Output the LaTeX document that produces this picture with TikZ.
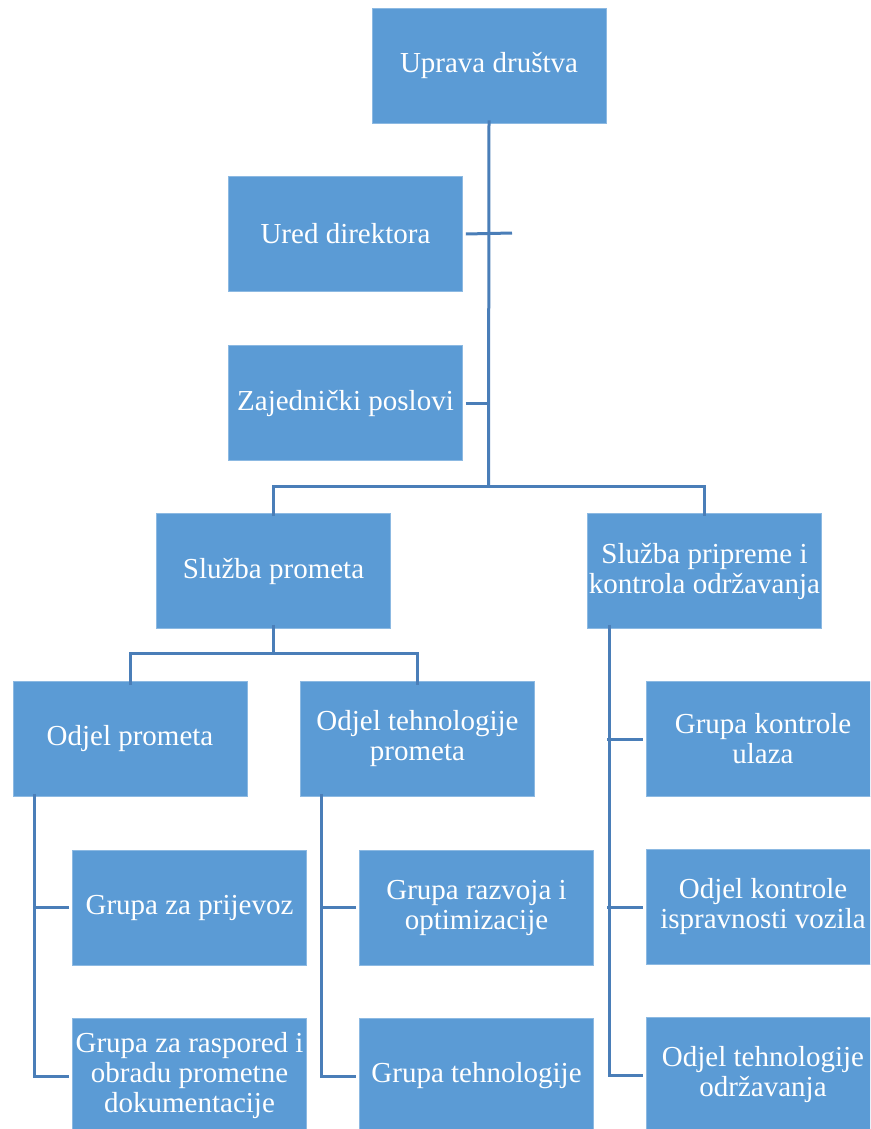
\documentclass[tikz,border=0pt]{standalone}
\usepackage{fontspec}
\setmainfont{Liberation Serif}
\newfontfamily\orgfont{Liberation Serif}
\definecolor{boxblue}{HTML}{5B9BD5}
\definecolor{lineblue}{HTML}{4A7EB8}
\begin{document}
\begin{tikzpicture}[x=1pt,y=-1pt,
  orgbox/.style={rectangle, fill=boxblue, draw=boxblue!70!white, line width=0.6pt,
    minimum width=234pt, minimum height=115pt, inner sep=0pt, align=center,
    text=white, font=\orgfont\fontsize{29pt}{30pt}\selectfont},
  conn/.style={draw=lineblue, line width=3pt}]
\useasboundingbox (0,0) rectangle (870,1129);
\clip (0,0) rectangle (870,1129);
\fill[white] (0,0) rectangle (870,1129);

\node[orgbox] (up)  at (489,65.5) {Uprava društva};
\node[orgbox] (ud)  at (345.5,234) {Ured direktora};
\node[orgbox] (zp)  at (345.5,403) {Zajednički poslovi};
\node[orgbox] (sp)  at (273.5,571) {Služba prometa};
\node[orgbox] (spk) at (704.5,571) {Služba pripreme i\\kontrola održavanja};
\node[orgbox] (op)  at (130,739) {Odjel prometa};
\node[orgbox] (otp) at (417.5,739) {Odjel tehnologije\\prometa};
\node[orgbox] (gzp) at (189.5,907.5) {Grupa za prijevoz};
\node[orgbox] (gzr) at (189.5,1076) {Grupa za raspored i\\obradu prometne\\dokumentacije};
\node[orgbox] (gro) at (476.5,907.5) {Grupa razvoja i\\optimizacije};
\node[orgbox] (gt)  at (476.5,1076) {Grupa tehnologije};
\node[orgbox] (gku) at (763,739) {Grupa kontrole\\ulaza};
\node[orgbox] (oki) at (763,907) {Odjel kontrole\\ispravnosti vozila};
\node[orgbox] (oto) at (763,1075) {Odjel tehnologije\\održavanja};

% top level
\coordinate (j1) at (488.5,486);
\coordinate (udend) at (512,233);
\draw[conn] ([yshift=3pt]up.south) -- (j1);
\draw[conn] ([xshift=3pt]ud.east) -- (udend);
\draw[conn] ([xshift=3pt]zp.east) -- (zp.east -| j1);
\draw[conn] ([yshift=-3pt]sp.north) |- (j1) -| ([yshift=-3pt]spk.north);

% Sluzba prometa
\coordinate (j2) at (273.5,653);
\draw[conn] ([yshift=4pt]sp.south) -- (j2);
\draw[conn] ([yshift=-4pt]op.north) |- (j2) -| ([yshift=-4pt]otp.north);

% Odjel prometa
\draw[conn] ([xshift=22pt,yshift=3pt]op.south west) |- ([xshift=-3pt]gzr.west);
\draw[conn] ([xshift=-3pt]gzp.west) -- +(-35pt,0);

% Odjel tehnologije prometa
\draw[conn] ([xshift=21pt,yshift=3pt]otp.south west) |- ([xshift=-3pt]gt.west);
\draw[conn] ([xshift=-3pt]gro.west) -- +(-36pt,0);

% Sluzba pripreme
\draw[conn] ([xshift=22pt,yshift=4pt]spk.south west) |- ([xshift=-3pt]oto.west);
\draw[conn] ([xshift=-3pt]gku.west) -- +(-36pt,0);
\draw[conn] ([xshift=-3pt]oki.west) -- +(-36pt,0);
\end{tikzpicture}
\end{document}
